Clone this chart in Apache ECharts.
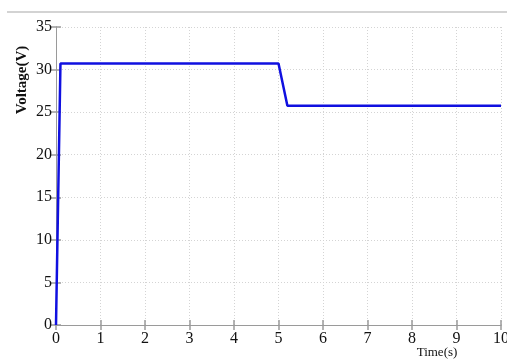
<!DOCTYPE html>
<html>
<head>
<meta charset="utf-8">
<script src="https://cdn.jsdelivr.net/npm/echarts@6/dist/echarts.min.js"></script>
<style>
  html, body { margin: 0; padding: 0; background: #fff; }
  #chart { width: 507px; height: 360px; }
</style>
</head>
<body>
<div id="chart"></div>
<script>
// Output voltage of the converter over time
const timeS = [0, 0.1, 5.0, 5.2, 10];
const voltageV = [0, 30.7, 30.7, 25.75, 25.75];
const xTicks = [0, 1, 2, 3, 4, 5, 6, 7, 8, 9, 10];
const yTicks = [0, 5, 10, 15, 20, 25, 30, 35];

const points = timeS.map((t, i) => [t, voltageV[i]]);

const chart = echarts.init(document.getElementById('chart'), null, { renderer: 'canvas' });

const axisGray = '#9a9a9a';
const labelFont = { fontFamily: 'Liberation Serif', fontSize: 16, color: '#111' };

const baseX = {
  type: 'value',
  min: xTicks[0],
  max: xTicks[xTicks.length - 1],
  interval: 1,
  axisLine: { show: true, lineStyle: { color: axisGray, width: 1 } },
  axisTick: { show: true, inside: true, length: 5, lineStyle: { color: axisGray, width: 1.5 } }
};
const baseY = {
  type: 'value',
  min: yTicks[0],
  max: yTicks[yTicks.length - 1],
  interval: 5,
  axisLine: { show: true, lineStyle: { color: axisGray, width: 1 } },
  axisTick: { show: true, inside: true, length: 5, lineStyle: { color: axisGray, width: 1.5 } }
};

chart.setOption({
  animation: false,
  grid: { left: 56, right: 6, top: 27, bottom: 35, outerBoundsMode: 'none', containLabel: false },
  xAxis: [
    Object.assign({}, baseX, {
      position: 'bottom',
      axisLabel: Object.assign({ margin: 6 }, labelFont),
      splitLine: { show: true, lineStyle: { color: '#d4d4d4', type: [1, 2], width: 1 } }
    }),
    Object.assign({}, baseX, {
      position: 'top',
      axisLabel: { show: false },
      splitLine: { show: false }
    })
  ],
  yAxis: [
    Object.assign({}, baseY, {
      position: 'left',
      axisLabel: Object.assign({ margin: 4 }, labelFont),
      splitLine: { show: true, lineStyle: { color: '#d4d4d4', type: [1, 2], width: 1 } }
    }),
    Object.assign({}, baseY, {
      position: 'right',
      axisLabel: { show: false },
      splitLine: { show: false }
    })
  ],
  series: [{
    type: 'line',
    data: points,
    showSymbol: false,
    lineStyle: { color: '#1010e0', width: 2.5 },
    z: 5
  }],
  graphic: [
    {
      type: 'line',
      shape: { x1: 7, y1: 12, x2: 507, y2: 12 },
      style: { stroke: '#c4c4c4', lineWidth: 1.5 }
    },
    {
      type: 'text',
      x: 22,
      y: 80,
      rotation: Math.PI / 2,
      style: {
        text: 'Voltage(V)',
        font: 'bold 15px "Liberation Serif"',
        fill: '#111',
        align: 'center',
        verticalAlign: 'middle'
      }
    },
    {
      type: 'text',
      x: 437,
      y: 353,
      style: {
        text: 'Time(s)',
        font: '13px "Liberation Serif"',
        fill: '#111',
        align: 'center',
        verticalAlign: 'middle'
      }
    }
  ]
});
</script>
</body>
</html>
